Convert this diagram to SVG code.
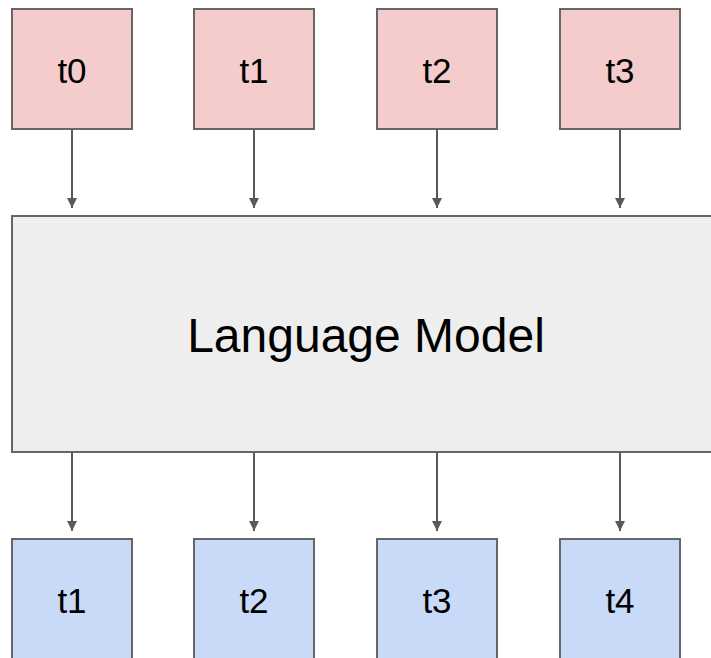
<svg xmlns="http://www.w3.org/2000/svg" width="711" height="658" viewBox="0 0 711 658">
<style>
.in rect{fill:#f4cccc;stroke:#666666;stroke-width:2}
.out rect{fill:#c9daf8;stroke:#666666;stroke-width:2}
.lm rect{fill:#eeeeee;stroke:#666666;stroke-width:2}
text{font-family:"Liberation Sans",Arial,sans-serif;fill:#000;text-anchor:middle}
.t{font-size:35px}
.big{font-size:48px}
.conn line{stroke:#595959;stroke-width:2;marker-end:url(#ah)}
</style>
<defs>
<marker id="ah" viewBox="0 0 10 10" refX="10" refY="5" markerWidth="5" markerHeight="5" markerUnits="strokeWidth" orient="auto">
<path d="M0,0 L10,5 L0,10 z" fill="#595959"/>
</marker>
</defs>
<rect width="711" height="658" fill="#ffffff"/>
<g class="conn">
<line x1="72" y1="129" x2="72" y2="208"/>
<line x1="254" y1="129" x2="254" y2="208"/>
<line x1="437" y1="129" x2="437" y2="208"/>
<line x1="620" y1="129" x2="620" y2="208"/>
<line x1="72" y1="452" x2="72" y2="531"/>
<line x1="254" y1="452" x2="254" y2="531"/>
<line x1="437" y1="452" x2="437" y2="531"/>
<line x1="620" y1="452" x2="620" y2="531"/>
</g>
<g id="in0" class="in"><rect x="12" y="9" width="120" height="120"/><text class="t" x="72" y="83">t0</text></g>
<g id="in1" class="in"><rect x="194" y="9" width="120" height="120"/><text class="t" x="254" y="83">t1</text></g>
<g id="in2" class="in"><rect x="377" y="9" width="120" height="120"/><text class="t" x="437" y="83">t2</text></g>
<g id="in3" class="in"><rect x="560" y="9" width="120" height="120"/><text class="t" x="620" y="83">t3</text></g>
<g id="lm" class="lm"><rect x="12" y="216" width="712" height="236"/><text class="big" x="366" y="352">Language Model</text></g>
<g id="out1" class="out"><rect x="12" y="539" width="120" height="130"/><text class="t" x="72" y="613">t1</text></g>
<g id="out2" class="out"><rect x="194" y="539" width="120" height="130"/><text class="t" x="254" y="613">t2</text></g>
<g id="out3" class="out"><rect x="377" y="539" width="120" height="130"/><text class="t" x="437" y="613">t3</text></g>
<g id="out4" class="out"><rect x="560" y="539" width="120" height="130"/><text class="t" x="620" y="613">t4</text></g>
</svg>
